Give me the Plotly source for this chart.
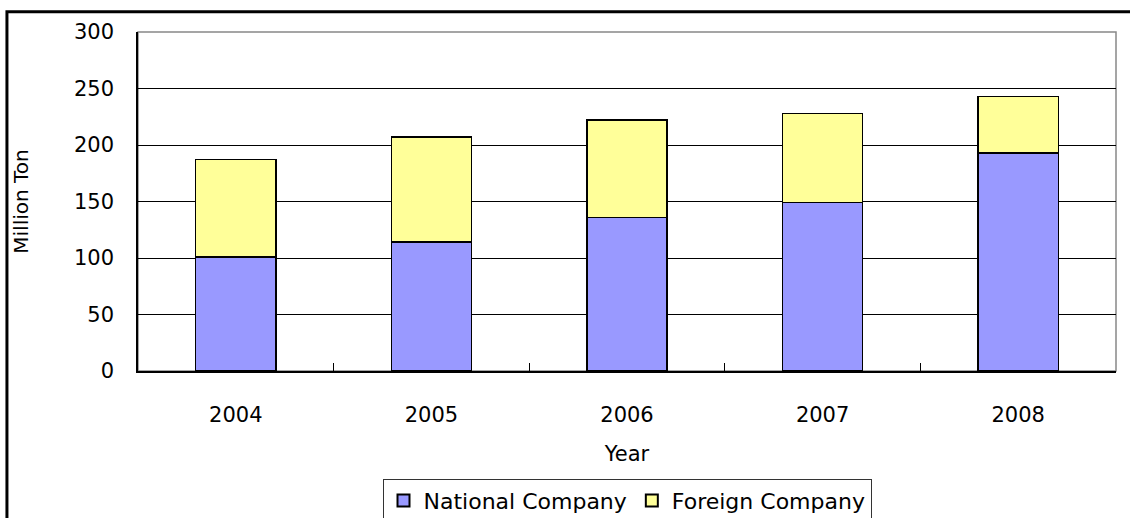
import plotly.graph_objects as go

years = ["2004", "2005", "2006", "2007", "2008"]
national = [101, 114, 136, 149, 193]
foreign = [86, 93, 86, 79, 50]
y_ticks = [0, 50, 100, 150, 200, 250, 300]
series_names = ["National Company", "Foreign Company"]
series_colors = ["#9999FF", "#FFFF99"]

FONT = "DejaVu Sans, Liberation Sans, sans-serif"
FS = 21

fig = go.Figure()
for name, vals, col in zip(series_names, [national, foreign], series_colors):
    fig.add_trace(go.Bar(x=years, y=vals, name=name, legendgroup=name, showlegend=False,
                         marker=dict(color=col, line=dict(color="black", width=1.5))))
# legend entries with larger square swatches
for name, col in zip(series_names, series_colors):
    fig.add_trace(go.Scatter(x=[None], y=[None], mode="markers", name=name, legendgroup=name,
                             marker=dict(symbol="square", size=15, color=col,
                                         line=dict(color="black", width=1.5))))

fig.update_layout(
    barmode="stack",
    bargap=0.59,
    width=1130, height=518,
    margin=dict(l=138, r=14, t=32, b=147, autoexpand=False),
    paper_bgcolor="white", plot_bgcolor="white",
    font=dict(family=FONT, size=FS, color="black"),
    legend=dict(orientation="h", x=0.5, xanchor="center", y=-0.318, yanchor="top",
                bordercolor="#333333", borderwidth=1, font=dict(size=22),
                itemsizing="constant", traceorder="normal", tracegroupgap=0,
                itemwidth=30),
    showlegend=True,
)
fig.update_xaxes(
    type="category",
    showline=True, linecolor="black", linewidth=1.5,
    ticks="inside", tickson="boundaries", ticklen=8, tickcolor="black",
    showgrid=False,
    ticklabelstandoff=24,
    title=dict(text="Year", font=dict(size=21), standoff=20),
    tickfont=dict(size=FS),
)
fig.update_yaxes(
    range=[0, 300], tickvals=y_ticks,
    showline=True, linecolor="black", linewidth=1.5,
    ticks="outside", ticklen=0,
    ticklabelstandoff=18,
    showgrid=True, gridcolor="black", gridwidth=1,
    title=dict(text="Million Ton", font=dict(size=20), standoff=40),
    tickfont=dict(size=FS),
    zeroline=False,
)
# plot area border (gray, top/right)
fig.add_shape(type="rect", xref="paper", yref="paper", x0=0, y0=0, x1=1, y1=1,
              line=dict(color="#888888", width=1.5), layer="below")
# outer chart frame
fig.add_shape(type="rect", xref="paper", yref="paper", x0=-0.134, y0=-0.6, x1=1.1, y1=1.06,
              line=dict(color="black", width=3))

fig.write_html("out.html", config={"displayModeBar": False},
               post_script="document.body.style.margin='0';document.body.style.overflow='hidden';")
